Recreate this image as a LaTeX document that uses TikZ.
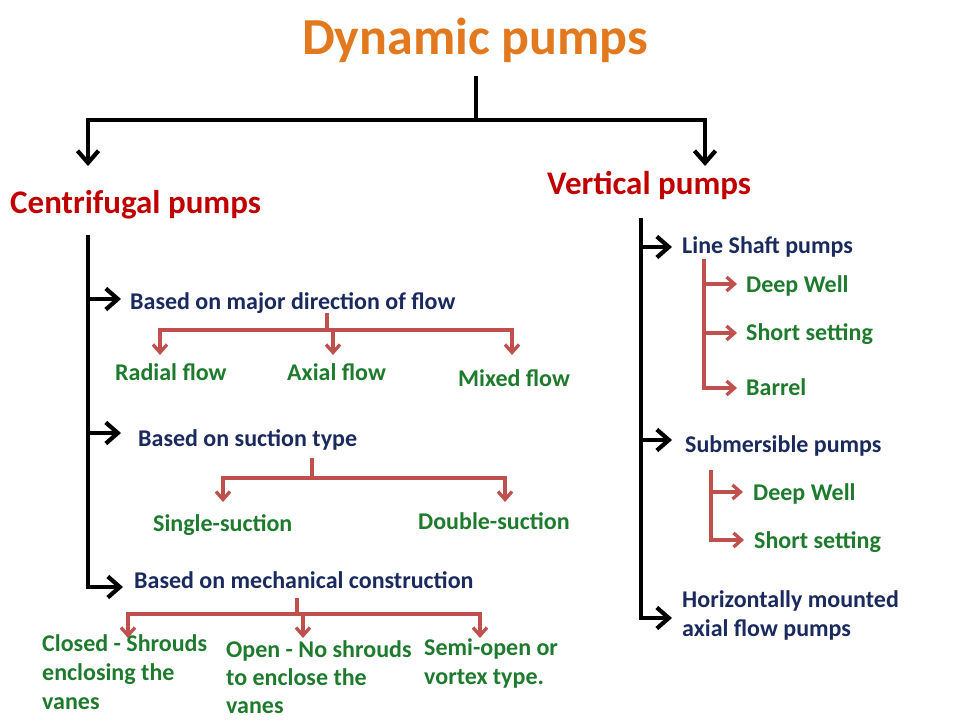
\documentclass[tikz,border=0pt]{standalone}
\usepackage{fontspec}
\setmainfont{Carlito}
\usetikzlibrary{arrows.meta}
\definecolor{ttl}{HTML}{E2791F}
\definecolor{hdr}{HTML}{C00000}
\definecolor{nav}{HTML}{1B2A5E}
\definecolor{grn}{HTML}{1E7B2E}
\definecolor{rl}{HTML}{C0504D}
\begin{document}
\begin{tikzpicture}[x=1pt,y=-1pt,
 ttlst/.style={font=\fontsize{52}{60}\selectfont\bfseries, text=ttl, inner sep=0pt, anchor=base west},
 hdrst/.style={font=\fontsize{33}{40}\selectfont\bfseries, text=hdr, inner sep=0pt, anchor=base west},
 navst/.style={font=\fontsize{24}{29}\selectfont\bfseries, text=nav, inner sep=0pt, anchor=base west},
 grnst/.style={font=\fontsize{24}{29}\selectfont\bfseries, text=grn, inner sep=0pt, anchor=base west},
 blk/.style={line width=4.2pt, line join=miter, draw=black},
 blkarr/.style={blk, -{Straight Barb[length=12pt,width=21pt,line width=4.2pt]}},
 redln/.style={line width=3.3pt, draw=rl, line join=miter},
 redarr/.style={redln, -{Straight Barb[length=8pt,width=14pt,line width=3.3pt]}}
]
\useasboundingbox (0,0) rectangle (960,720);
\fill[white] (0,0) rectangle (960,720);

% ---------- texts ----------
\node[ttlst] (title) at (302,54) {Dynamic pumps};
\node[hdrst] (cent) at (10,213) {Centrifugal pumps};
\node[hdrst] (vert) at (547,194) {Vertical pumps};

\node[navst] (dir) at (130,309) {Based on major direction of flow};
\node[navst] (suc) at (138,446) {Based on suction type};
\node[navst] (mech) at (134,588) {Based on mechanical construction};

\node[grnst] (radial) at (115,380) {Radial flow};
\node[grnst] (axial) at (287,380) {Axial flow};
\node[grnst] (mixed) at (458,386) {Mixed flow};

\node[grnst] (single) at (153,531) {Single-suction};
\node[grnst] (double) at (418,529) {Double-suction};

\node[grnst] (closed) at (42,651) {\vtop{\hbox{Closed - Shrouds}\hbox{enclosing the}\hbox{vanes}}};
\node[grnst] (open) at (226,657) {\vtop{\baselineskip=28pt\hbox{Open - No shrouds}\hbox{to enclose the}\hbox{vanes}}};
\node[grnst] (semi) at (424,655) {\vtop{\hbox{Semi-open or}\hbox{vortex type.}}};

\node[navst] (line) at (682,253) {Line Shaft pumps};
\node[grnst] (deep1) at (746,292) {Deep Well};
\node[grnst] (short1) at (746,340) {Short setting};
\node[grnst] (barrel) at (746,395) {Barrel};

\node[navst] (subm) at (685,452) {Submersible pumps};
\node[grnst] (deep2) at (753,500) {Deep Well};
\node[grnst] (short2) at (754,548) {Short setting};

\node[navst] (horiz) at (682,607) {\vtop{\hbox{Horizontally mounted}\hbox{axial flow pumps}}};

% ---------- black top tree ----------
\coordinate (t0) at (476,76);
\coordinate (tj) at (476,120);
\coordinate (tl) at (88,120);
\coordinate (tr) at (705,120);
\coordinate (cl) at (88,166);
\coordinate (vr) at (705,166);
\draw[blk] (t0) -- (tj);
\draw[blkarr] (tj) -- (tl) -- (cl);
\draw[blkarr] (tj) -- (tr) -- (vr);

% ---------- centrifugal trunk ----------
\coordinate (ct0) at (88,235);
\coordinate (ct1) at (88,299);
\coordinate (ct2) at (88,433);
\coordinate (ct3) at (88,587);
\draw[blkarr] (ct0) -- (ct3) -- ([xshift=-11pt]mech.west |- ct3);
\draw[blkarr] (ct1) -- ([xshift=-9pt]dir.west |- ct1);
\draw[blkarr] (ct2) -- ([xshift=-17pt]suc.west |- ct2);

% ---------- direction of flow subtree ----------
\coordinate (d0) at (327,313);
\coordinate (d1) at (327,330);
\coordinate (dl) at (160,330);
\coordinate (dm) at (333,330);
\coordinate (dr) at (512,330);
\draw[redln] (d0) -- (d1);
\draw[redarr] (d1) -- (dl) -- (160,355);
\draw[redarr] (d1) -- (dr) -- (512,355);
\draw[redarr] (dm) -- (333,355);

% ---------- suction subtree ----------
\coordinate (s0) at (312,458);
\coordinate (s1) at (312,478);
\coordinate (sl) at (223,478);
\coordinate (sr) at (505,478);
\draw[redln] (s0) -- (s1);
\draw[redarr] (s1) -- (sl) -- (223,502);
\draw[redarr] (s1) -- (sr) -- (505,502);

% ---------- mechanical subtree ----------
\coordinate (m0) at (297,598);
\coordinate (m1) at (297,614);
\coordinate (ml) at (128,614);
\coordinate (mm) at (303,614);
\coordinate (mr) at (480,614);
\draw[redln] (m0) -- (m1);
\draw[redarr] (m1) -- (ml) -- (128,638);
\draw[redarr] (m1) -- (mr) -- (480,638);
\draw[redarr] (mm) -- (303,638);

% ---------- vertical trunk ----------
\coordinate (vt0) at (641,218);
\coordinate (vt1) at (641,247);
\coordinate (vt2) at (641,440);
\coordinate (vt3) at (641,618);
\draw[blkarr] (vt0) -- (vt3) -- ([xshift=-10pt]horiz.west |- vt3);
\draw[blkarr] (vt1) -- ([xshift=-10pt]line.west |- vt1);
\draw[blkarr] (vt2) -- ([xshift=-13pt]subm.west |- vt2);

% ---------- line shaft subtree ----------
\coordinate (l0) at (704,259);
\coordinate (l1) at (704,284);
\coordinate (l2) at (704,333);
\coordinate (l3) at (704,388);
\draw[redarr] (l0) -- (l3) -- ([xshift=-9pt]barrel.west |- l3);
\draw[redarr] (l1) -- ([xshift=-9pt]deep1.west |- l1);
\draw[redarr] (l2) -- ([xshift=-9pt]short1.west |- l2);

% ---------- submersible subtree ----------
\coordinate (u0) at (711,470);
\coordinate (u1) at (711,492);
\coordinate (u2) at (711,540);
\draw[redarr] (u0) -- (u2) -- ([xshift=-10pt]short2.west |- u2);
\draw[redarr] (u1) -- ([xshift=-10pt]deep2.west |- u1);
\end{tikzpicture}
\end{document}
